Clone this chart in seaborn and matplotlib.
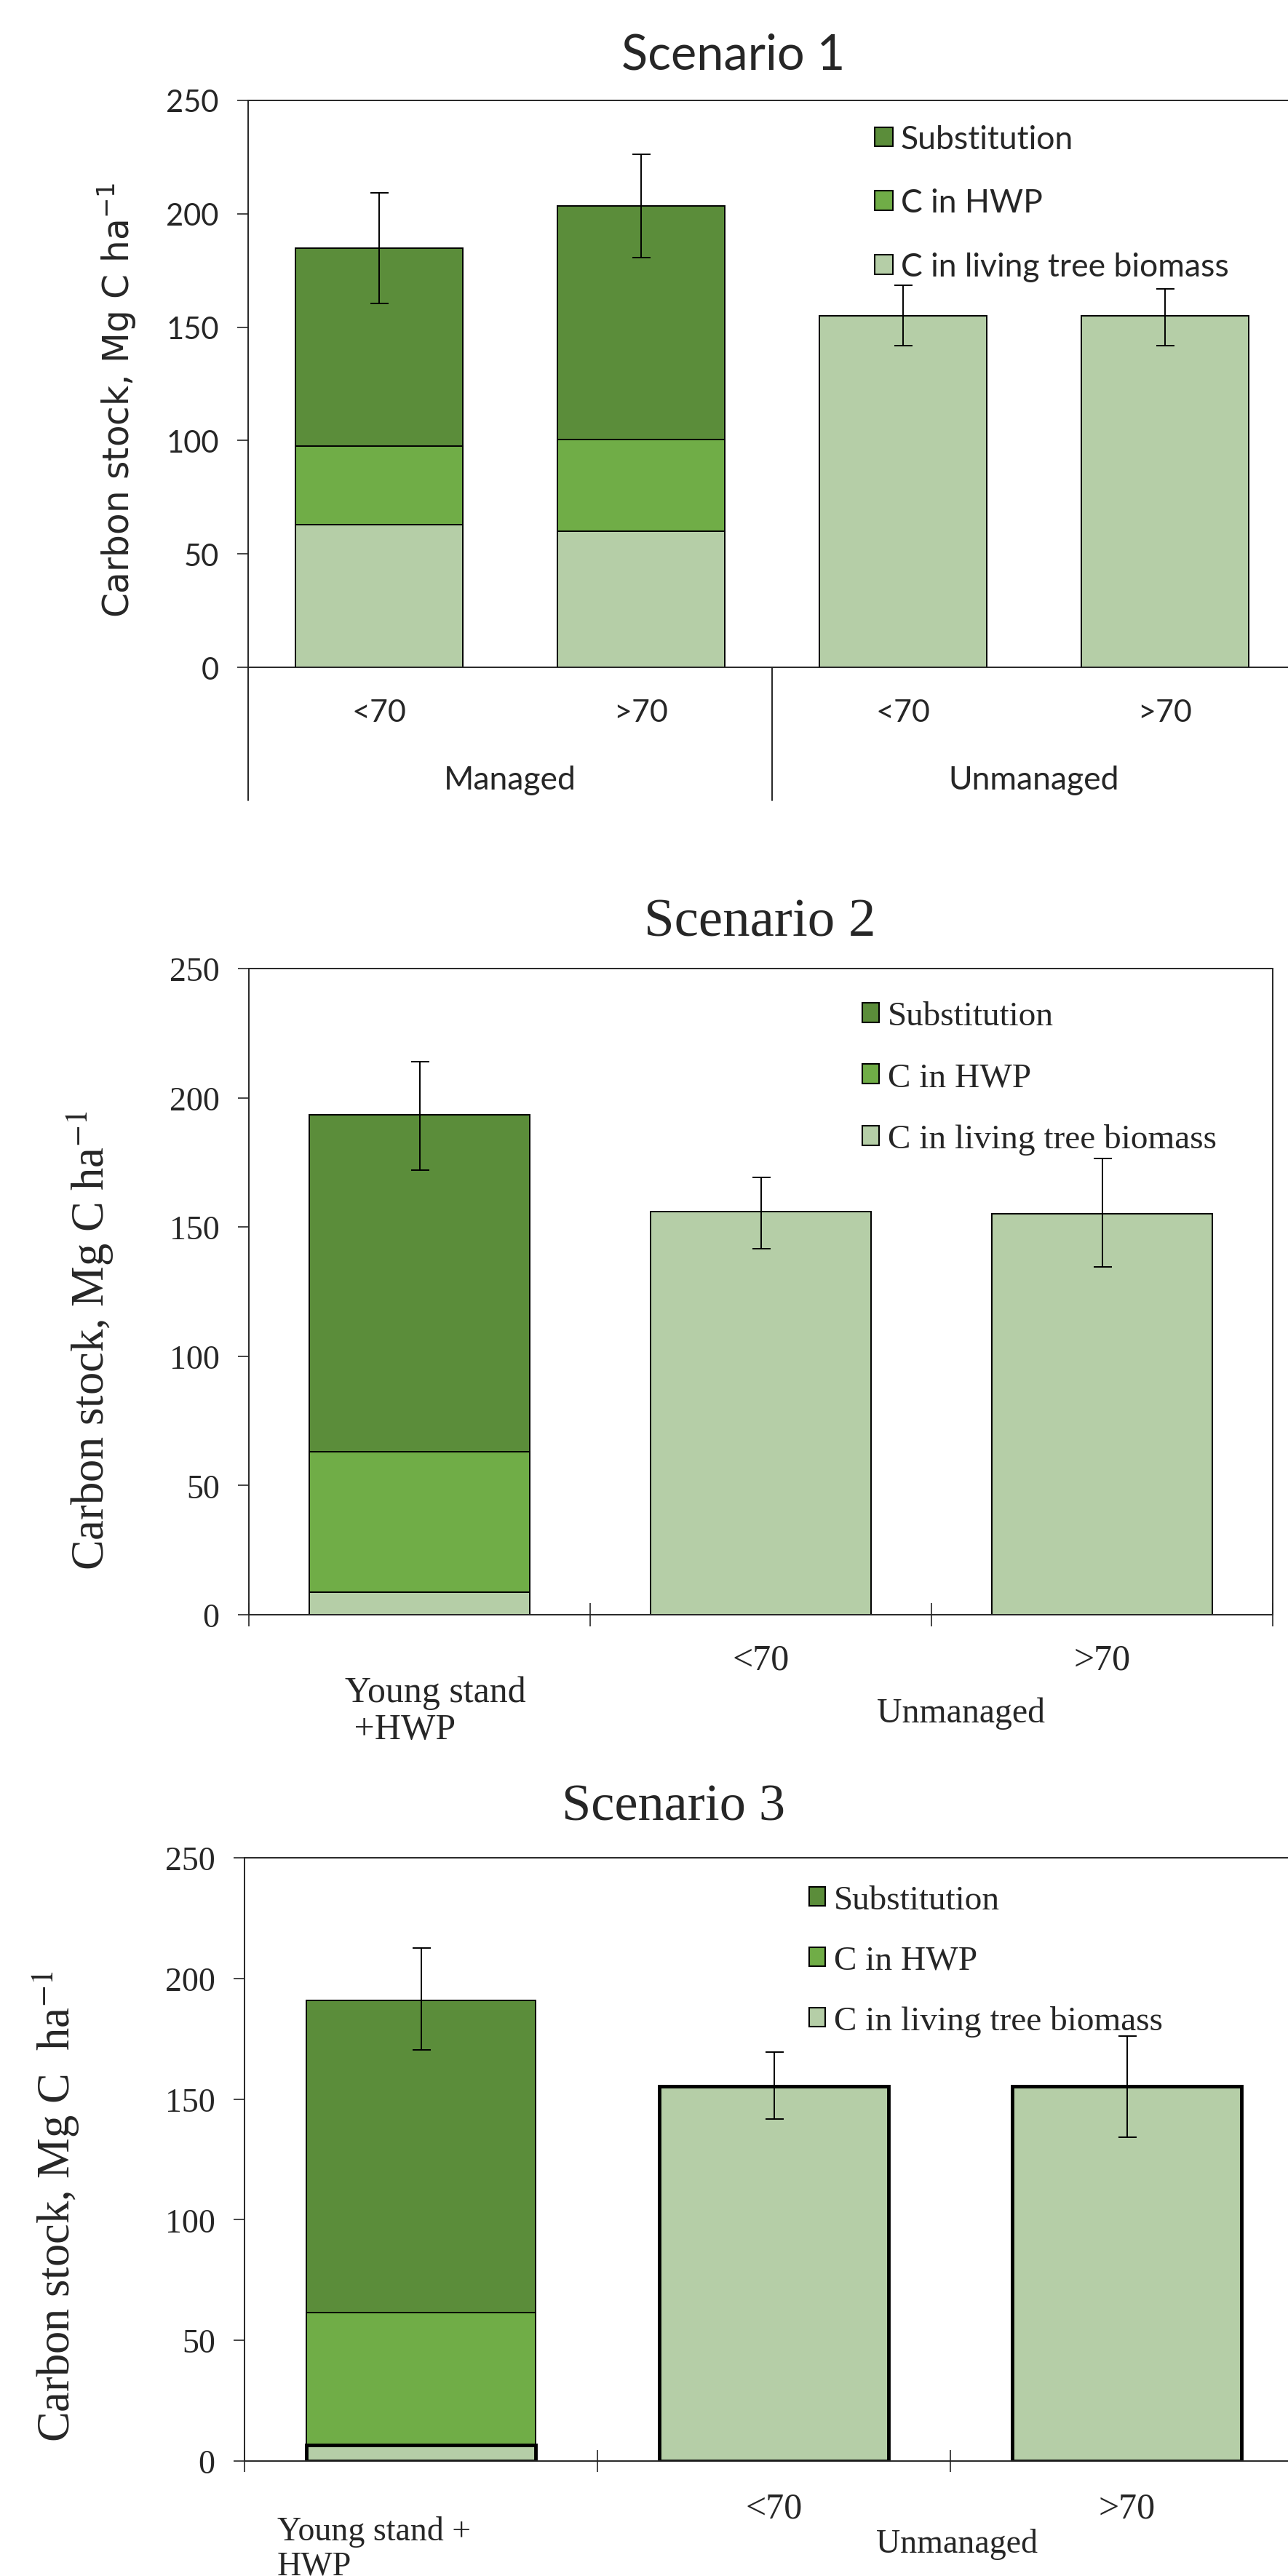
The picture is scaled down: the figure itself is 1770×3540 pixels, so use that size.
import matplotlib
matplotlib.use("Agg")
import matplotlib.pyplot as plt
from matplotlib import font_manager
from matplotlib.patches import Patch
import numpy as np
import seaborn as sns

# dados (Mg C/ha)
legend_labels = ["Substitution", "C in HWP", "C in living tree biomass"]
layer_colors = ["#5B8D3A", "#70AD47", "#B5CEA7"]

s1_keys = ["Managed <70", "Managed >70", "Unmanaged <70", "Unmanaged >70"]
s1_ticklabels = ["<70", ">70", "<70", ">70"]
s1_groups = ["Managed", "Unmanaged"]
s1_living = [63, 60, 155, 155]
s1_hwp = [34.5, 40.5, 0, 0]
s1_subst = [87.5, 103, 0, 0]
s1_err_lo = [24.4, 22.7, 13.2, 13.1]
s1_err_hi = [24.2, 22.8, 13.5, 12.0]

s2_keys = ["Young stand +HWP", "Unmanaged <70", "Unmanaged >70"]
s2_ticklabels = ["<70", ">70"]
s2_living = [8.7, 156, 155.2]
s2_hwp = [54.5, 0, 0]
s2_subst = [130.2, 0, 0]
s2_err_lo = [21.3, 14.3, 20.7]
s2_err_hi = [20.6, 13.2, 21.2]

s3_keys = ["Young stand + HWP", "Unmanaged <70", "Unmanaged >70"]
s3_ticklabels = ["<70", ">70"]
s3_living = [6.6, 155.4, 155.4]
s3_hwp = [54.9, 0, 0]
s3_subst = [129.5, 0, 0]
s3_err_lo = [20.7, 13.6, 21.2]
s3_err_hi = [21.5, 14.1, 20.8]

sns.set_style("ticks")

nomes = {f.name for f in font_manager.fontManager.ttflist}
SANS = next(f for f in ["Liberation Sans Narrow", "Lato", "DejaVu Sans"] if f in nomes)
SERIF = "Liberation Serif"

W, H = 1770, 3541
fig = plt.figure(figsize=(W / 100, H / 100), dpi=100)


def fx(px):
    return px / W


def fy(py):
    return 1 - py / H


def eixo(left, right, top, bottom):
    return fig.add_axes([fx(left), fy(bottom), (right - left) / W, (bottom - top) / H])


def barras_empilhadas(ax, keys, living, hwp, subst, lo, hi, width):
    living = np.array(living)
    mid = living + np.array(hwp)
    total = mid + np.array(subst)
    for vals, cor in [(total, layer_colors[0]), (mid, layer_colors[1]), (living, layer_colors[2])]:
        sns.barplot(x=keys, y=list(vals), order=keys, color=cor, saturation=1,
                    edgecolor="black", linewidth=1.4, width=width, errorbar=None, ax=ax)
    ax.errorbar(np.arange(len(keys)), total, yerr=[lo, hi], fmt="none", ecolor="black",
                elinewidth=1.4, capsize=9, capthick=1.4, zorder=5)


def estilo_y(ax, fam, fs):
    ax.set_ylim(0, 250)
    ax.set_yticks(range(0, 251, 50))
    ax.tick_params(axis="y", direction="out", length=11, width=1.2, pad=18, labelsize=fs)
    for t in ax.get_yticklabels():
        t.set_family(fam)
    for s in ax.spines.values():
        s.set_linewidth(1.4)
    ax.set_xlabel("")
    ax.set_ylabel("")


def legenda(ax, fam, x, y, fs, ls, hl):
    handles = [Patch(facecolor=c, edgecolor="black", linewidth=1.5) for c in layer_colors]
    ax.legend(handles, legend_labels, loc="upper left", bbox_to_anchor=(x, y), frameon=False,
              borderpad=0, borderaxespad=0, handlelength=hl, handleheight=hl,
              handletextpad=0.25, labelspacing=ls, prop={"family": fam, "size": fs})


# ---------------- Scenario 1 ----------------
ax1 = eixo(341, 1781, 139, 918)
barras_empilhadas(ax1, s1_keys, s1_living, s1_hwp, s1_subst, s1_err_lo, s1_err_hi, 0.64)
estilo_y(ax1, SANS, 30)
ax1.set_xticks(range(4), labels=s1_ticklabels)
ax1.tick_params(axis="x", length=0, pad=31, labelsize=31)
for t in ax1.get_xticklabels():
    t.set_family(SANS)
trans1 = ax1.get_xaxis_transform()
for xv in [-0.5, 1.5, 3.5]:
    ax1.plot([xv, xv], [0, -0.235], transform=trans1, color="black", lw=1.2, clip_on=False)
for xv, g in zip([0.5, 2.5], s1_groups):
    ax1.text(xv, -0.198, g, transform=trans1, ha="center", va="center", family=SANS, fontsize=32)
ax1.set_xlim(-0.5, 3.5)
legenda(ax1, SANS, 0.598, 0.958, 32, 1.05, 0.55)
fig.text(fx(1008), fy(77), "Scenario 1", ha="center", va="center", family=SANS, fontsize=48)
fig.text(fx(161), fy(550), "Carbon stock, Mg C ha$^{-1}$", rotation=90, ha="center", va="center",
         family="DejaVu Sans", fontsize=35, math_fontfamily="dejavusans")

# ---------------- Scenario 2 ----------------
ax2 = eixo(342, 1749, 1332, 2220)
barras_empilhadas(ax2, s2_keys, s2_living, s2_hwp, s2_subst, s2_err_lo, s2_err_hi, 0.646)
estilo_y(ax2, SERIF, 33)
ax2.set_xticks([-0.5, 0.5, 1.5, 2.5], labels=[])
ax2.set_xticks([1, 2], labels=s2_ticklabels, minor=True)
ax2.tick_params(axis="x", which="major", direction="inout", length=23, width=1.2)
ax2.tick_params(axis="x", which="minor", length=0, pad=28, labelsize=36)
for t in ax2.get_xticklabels(minor=True):
    t.set_family(SERIF)
ax2.set_xlim(-0.5, 2.5)
legenda(ax2, SERIF, 0.599, 0.950, 34, 0.89, 0.5)
fig.text(fx(474), fy(2304), "Young stand\n +HWP", ha="left", va="top", family=SERIF,
         fontsize=36, linespacing=1.1)
fig.text(fx(1321), fy(2355), "Unmanaged", ha="center", va="center", family=SERIF, fontsize=34.5)
fig.text(fx(1044), fy(1269), "Scenario 2", ha="center", va="center", family=SERIF, fontsize=54)
fig.text(fx(124), fy(1842), "Carbon stock, Mg C ha$^{-1}$", rotation=90, ha="center", va="center",
         family=SERIF, fontsize=45, math_fontfamily="stix")

# ---------------- Scenario 3 ----------------
ax3 = eixo(336, 1791, 2554, 3383)
barras_empilhadas(ax3, s3_keys, s3_living, s3_hwp, s3_subst, s3_err_lo, s3_err_hi, 0.65)
for p in ax3.patches[-len(s3_keys):]:
    p.set_linewidth(3.5)
estilo_y(ax3, SERIF, 33)
ax3.set_xticks([-0.5, 0.5, 1.5, 2.5], labels=[])
ax3.set_xticks([1, 2], labels=s3_ticklabels, minor=True)
ax3.tick_params(axis="x", which="major", direction="inout", length=22, width=1.2)
ax3.tick_params(axis="x", which="minor", length=0, pad=30, labelsize=36)
for t in ax3.get_xticklabels(minor=True):
    t.set_family(SERIF)
ax3.set_xlim(-0.5, 2.5)
legenda(ax3, SERIF, 0.533, 0.955, 34, 0.85, 0.48)
fig.text(fx(381), fy(3458), "Young stand +\nHWP", ha="left", va="top", family=SERIF,
         fontsize=33, linespacing=1.15)
fig.text(fx(1315), fy(3497), "Unmanaged", ha="center", va="center", family=SERIF, fontsize=33)
fig.text(fx(926), fy(2484), "Scenario 3", ha="center", va="center", family=SERIF, fontsize=52)
fig.text(fx(77), fy(3032), "Carbon stock, Mg C  ha$^{-1}$", rotation=90, ha="center", va="center",
         family=SERIF, fontsize=45, math_fontfamily="stix")

fig.savefig("out.png", dpi=100, facecolor="white")
plt.close(fig)
